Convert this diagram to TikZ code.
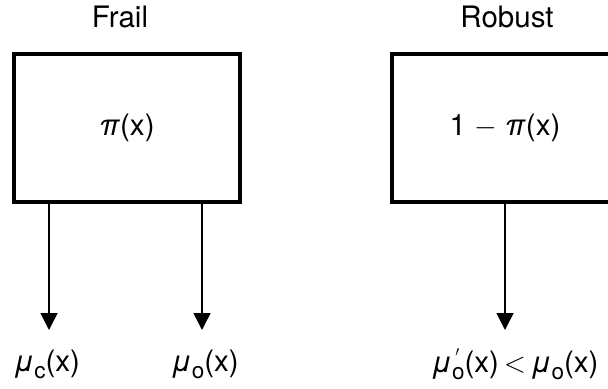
\documentclass[tikz,border=0pt]{standalone}
\usepackage{fontspec}
\setmainfont{TeX Gyre Heros}
\usetikzlibrary{arrows.meta}
\tikzstyle{state}=[draw,line width=2.6pt,minimum width=5.65cm,minimum height=3.7cm,inner sep=0pt]
\tikzstyle{flow}=[line width=1.1pt,-{Triangle[width=0.42cm,length=0.42cm]}]
\newcommand{\mug}{\textit{μ}}
\newcommand{\lowsub}[1]{\raisebox{-0.45ex}{\fontsize{16}{18}\selectfont #1}}

\begin{document}
\begin{tikzpicture}[font=\fontsize{21}{24}\selectfont]
\useasboundingbox (0,0) rectangle (15.2,9.725);
  \node[state] (frail) at (3.175,6.525) {\textit{π}(x)};
  \node[state] (robust) at (12.625,6.525) {1 $-$ \textit{π}(x)};
  \node (frailtitle) at (3.0,9.3) {Frail};
  \node (robusttitle) at (12.675,9.3) {Robust};
  \node (muc) at (1.175,0.62) {\mug\lowsub{c}(x)};
  \node (muo) at (5.125,0.62) {\mug\lowsub{o}(x)};
  \node (mur) at (12.875,0.62) {\mug\rlap{\raisebox{0.6ex}{\fontsize{14}{16}\selectfont\,$'$}}\lowsub{o}(x)\,$<$\,\mug\lowsub{o}(x)};
  \coordinate (tipc) at (1.225,1.475);
  \coordinate (tipo) at (5.05,1.475);
  \coordinate (tipr) at (12.625,1.475);
\draw[flow] (frail.south -| tipc) -- (tipc);
\draw[flow] (frail.south -| tipo) -- (tipo);
\draw[flow] (robust.south -| tipr) -- (tipr);
\end{tikzpicture}
\end{document}
